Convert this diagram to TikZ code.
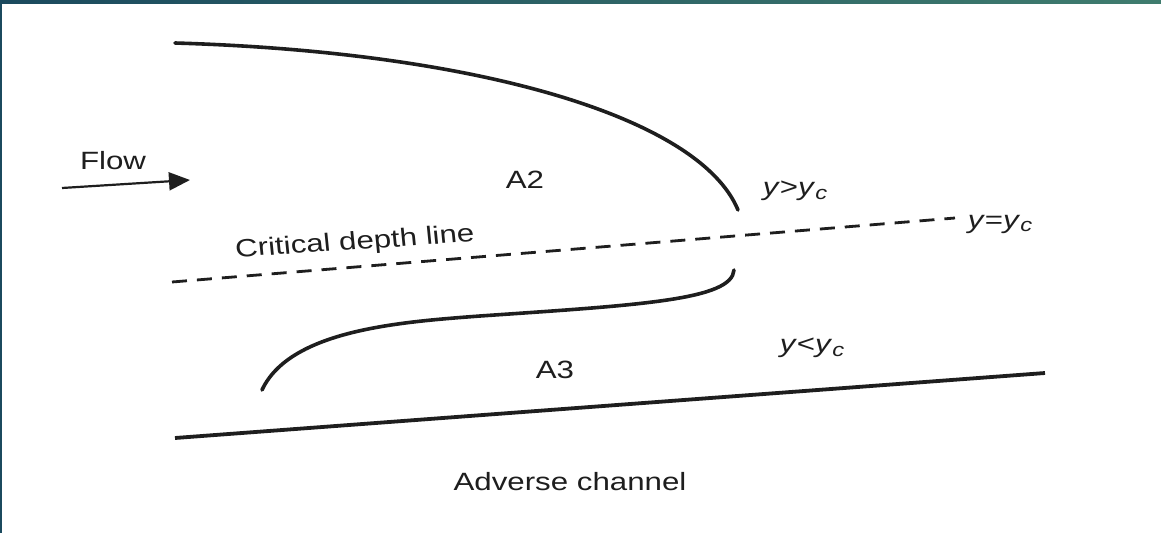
\documentclass[tikz,border=0pt]{standalone}
\usepackage{fontspec}
\setmainfont{Liberation Sans}
\usetikzlibrary{arrows.meta}
\definecolor{barL}{HTML}{1B4A5E}
\definecolor{barR}{HTML}{3F7C6E}
\definecolor{ink}{HTML}{1E1E1E}
\tikzset{
  lbl/.style={font=\fontsize{25}{29}\selectfont, xscale=1.25, inner sep=0pt, text=ink},
  curve/.style={line width=3.6pt, draw=ink, line cap=round},
  critline/.style={line width=2.8pt, draw=ink, dash pattern=on 15pt off 10pt},
  bedline/.style={line width=3.8pt, draw=ink},
  flowarrow/.style={line width=2.2pt, draw=ink, -{Triangle[length=21pt,width=18pt]}}
}
\newcommand{\subc}{\raisebox{-0.3ex}{\fontsize{19}{20}\selectfont\textit{c}}}
\begin{document}
\begin{tikzpicture}[x=1pt,y=-1pt]
\useasboundingbox (0,0) rectangle (1161,533);
\fill[white] (0,0) rectangle (1161,533);
% frame
\shade[left color=barL, right color=barR] (0,0) rectangle (1161,3);
\fill[barL] (0,0) rectangle (2,533);
% coordinates
\coordinate (a2s) at (175,43);
\coordinate (a2e) at (738,210);
\coordinate (a3s) at (262,390);
\coordinate (a3m) at (480,316);
\coordinate (a3e) at (734,270);
\coordinate (cs) at (172,282);
\coordinate (ce) at (955,218);
\coordinate (bs) at (175,438);
\coordinate (be) at (1045,373);
\coordinate (fs) at (62,188);
\coordinate (fe) at (190,180);
% A2 curve
\draw[curve] (a2s) .. controls (480,52) and (700,118) .. (a2e);
% A3 curve
\draw[curve] (a3s) .. controls (290,330) and (400,322) .. (a3m)
  .. controls (640,305) and (732,300) .. (a3e);
% critical depth line
\draw[critline] (cs) -- (ce);
% channel bed
\draw[bedline] (bs) -- (be);
% flow arrow
\draw[flowarrow] (fs) -- (fe);
% labels
\node[lbl] (flow) at (113,161) {Flow};
\node[lbl] (A2) at (525,180) {A2};
\node[lbl] (A3) at (555,370) {A3};
\node[lbl, rotate=4.6] (crit) at (355,243) {Critical depth line};
\node[lbl] (gt) at (795,191) {\textit{y}{>}\textit{y}\subc};
\node[lbl] (eq) at (1000,224) {\textit{y}{=}\textit{y}\subc};
\node[lbl] (lt) at (812,348) {\textit{y}{<}\textit{y}\subc};
\node[lbl] (adv) at (570,482) {Adverse channel};
\end{tikzpicture}
\end{document}
